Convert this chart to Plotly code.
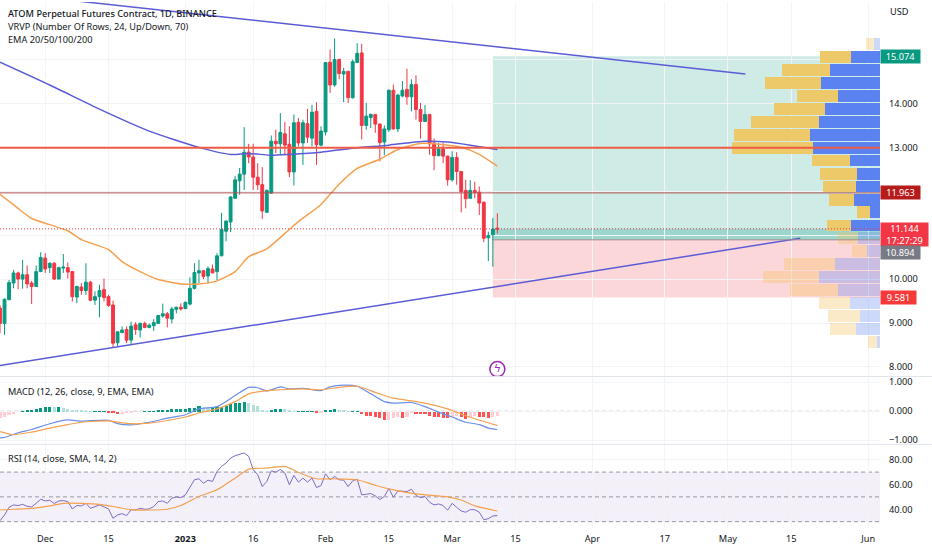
import pandas as pd

import plotly.graph_objects as go

# daily candles, 2022-11-21 -> 2023-03-11
start = pd.Timestamp("2022-11-21")

opens = [
    9.34, 8.99, 9.53, 9.91, 10.14, 10.00, 10.10, 9.91, 9.83, 10.17,
    10.48, 10.26, 10.36, 10.00, 10.25, 10.26, 10.17, 9.59, 9.82, 9.74,
    9.93, 9.52, 9.60, 9.76, 9.60, 9.41, 8.55, 8.78, 8.85, 8.61,
    8.96, 8.84, 8.99, 8.90, 8.94, 8.99, 9.16, 9.21, 9.09, 9.31,
    9.36, 9.33, 9.43, 9.79, 10.14, 10.19, 10.07, 10.23, 10.17, 10.53,
    11.09, 11.30, 11.84, 12.24, 12.39, 12.89, 12.78, 12.32, 12.15, 11.52,
    11.96, 13.14, 13.08, 13.31, 13.07, 12.44, 13.57, 13.10, 13.54, 13.21,
    13.82, 13.05, 13.35, 14.94, 14.42, 15.00, 14.67, 14.73, 14.13, 14.93,
    15.15, 13.50, 13.68, 13.75, 13.53, 13.12, 13.40, 14.30, 13.42, 14.17,
    14.32, 14.15, 14.43, 13.86, 13.59, 13.75, 13.10, 12.81, 12.96, 12.80,
    12.26, 12.77, 12.45, 12.02, 11.84, 12.02, 11.98, 11.75, 10.94, 11.01,
    11.16,
]
highs = [
    9.41, 9.56, 9.98, 10.21, 10.17, 10.44, 10.31, 9.96, 10.31, 10.61,
    10.59, 10.38, 10.39, 10.28, 10.57, 10.38, 10.17, 9.85, 9.91, 10.36,
    9.96, 9.72, 9.87, 10.01, 9.64, 9.51, 8.80, 8.92, 8.92, 9.03,
    9.02, 9.01, 9.03, 8.99, 9.09, 9.18, 9.44, 9.25, 9.37, 9.37,
    9.45, 9.49, 10.04, 10.36, 10.44, 10.21, 10.29, 10.33, 10.59, 11.51,
    11.34, 11.89, 12.35, 12.53, 13.46, 13.08, 13.08, 12.64, 12.55, 12.04,
    13.27, 13.40, 13.78, 13.58, 13.48, 13.75, 13.67, 13.63, 13.88, 13.97,
    14.03, 13.48, 14.94, 15.23, 15.48, 15.02, 14.81, 14.75, 15.00, 15.37,
    15.36, 14.01, 13.77, 13.75, 13.54, 13.50, 14.32, 14.43, 14.22, 14.51,
    14.79, 14.55, 14.64, 14.01, 13.96, 13.75, 13.20, 13.10, 13.10, 12.81,
    12.91, 12.89, 12.45, 12.26, 12.25, 12.22, 12.11, 11.77, 11.08, 11.39,
    11.50,
]
lows = [
    8.77, 8.73, 9.53, 9.79, 9.77, 9.78, 9.79, 9.43, 9.83, 10.17,
    10.14, 10.14, 9.98, 10.00, 10.14, 10.01, 9.49, 9.45, 9.64, 9.64,
    9.50, 9.41, 9.13, 9.49, 9.37, 8.45, 8.45, 8.77, 8.54, 8.51,
    8.73, 8.67, 8.88, 8.88, 8.82, 8.98, 9.12, 8.90, 8.99, 9.22,
    9.28, 9.31, 9.40, 9.76, 9.91, 10.00, 9.90, 10.14, 9.98, 10.52,
    10.86, 11.07, 11.84, 11.92, 12.03, 12.64, 12.03, 12.03, 11.37, 11.52,
    11.94, 12.87, 12.82, 12.82, 12.32, 12.13, 13.02, 12.60, 13.10, 13.02,
    12.60, 13.02, 13.27, 14.24, 14.38, 14.55, 14.03, 14.01, 14.11, 14.93,
    13.18, 13.40, 13.44, 13.33, 12.68, 12.82, 13.35, 13.40, 13.35, 14.14,
    13.97, 13.82, 13.63, 13.20, 13.58, 12.83, 12.48, 12.80, 12.64, 12.13,
    12.22, 12.15, 11.52, 11.61, 11.84, 11.84, 11.46, 10.84, 10.41, 10.28,
    11.04,
]
closes = [
    8.99, 9.54, 9.92, 10.14, 10.00, 10.10, 9.89, 9.83, 10.17, 10.49,
    10.23, 10.36, 10.00, 10.26, 10.27, 10.16, 9.60, 9.83, 9.74, 9.93,
    9.52, 9.60, 9.74, 9.58, 9.40, 8.54, 8.80, 8.84, 8.61, 8.93,
    8.85, 8.99, 8.90, 8.95, 9.01, 9.17, 9.21, 9.11, 9.32, 9.36,
    9.32, 9.47, 9.79, 10.15, 10.19, 10.06, 10.24, 10.14, 10.53, 11.13,
    11.32, 11.87, 12.26, 12.39, 12.89, 12.78, 12.32, 12.15, 11.55, 12.02,
    13.14, 13.08, 13.34, 13.05, 12.44, 13.56, 13.10, 13.56, 13.23, 13.80,
    13.06, 13.37, 14.93, 14.42, 15.00, 14.68, 14.73, 14.13, 14.95, 15.14,
    13.50, 13.71, 13.75, 13.53, 13.11, 13.42, 14.30, 13.42, 14.19, 14.30,
    14.15, 14.43, 13.86, 13.59, 13.75, 13.08, 12.81, 12.96, 12.80, 12.26,
    12.77, 12.45, 11.99, 11.83, 12.02, 11.97, 11.73, 10.93, 10.99, 11.14,
    11.14,
]

ema200_days = [0, 11, 22, 33, 44, 51, 55, 60, 64, 71, 78, 86, 90, 94, 99, 104, 110]
ema200 = [14.94, 14.42, 13.87, 13.37, 13.00, 12.84, 12.86, 12.82, 12.84, 12.89,
          12.98, 13.05, 13.10, 13.14, 13.12, 13.05, 12.95]
ema50_days = [0, 4, 7, 11, 15, 18, 24, 27, 31, 35, 40, 44, 48, 52, 55, 59, 63, 66,
              71, 75, 79, 84, 88, 93, 97, 102, 106, 110]
ema50 = [11.93, 11.61, 11.38, 11.24, 11.10, 10.90, 10.67, 10.40, 10.17, 9.99,
         9.89, 9.89, 9.96, 10.17, 10.51, 10.69, 11.04, 11.31, 11.70, 12.16,
         12.52, 12.73, 12.95, 13.09, 13.07, 13.00, 12.84, 12.57]

macd_days = [0, 1, 4, 7, 11, 15, 18, 24, 26, 29, 33, 37, 41, 44, 48, 52, 55, 57, 59, 62,
             64, 67, 71, 73, 76, 79, 82, 85, 87, 91, 94, 97, 100, 103, 106, 108, 110]
macd = [-0.92, -0.90, -0.74, -0.63, -0.43, -0.30, -0.34, -0.31, -0.43, -0.47,
        -0.38, -0.24, -0.12, 0.08, 0.16, 0.54, 0.82, 0.81, 0.70, 0.84,
        0.77, 0.79, 0.71, 0.84, 0.90, 0.86, 0.60, 0.33, 0.28, 0.30,
        0.16, -0.03, -0.20, -0.38, -0.46, -0.58, -0.63]
signal_days = [0, 3, 7, 11, 15, 18, 24, 27, 29, 33, 37, 41, 44, 48, 52, 55, 59, 62, 67, 71,
               74, 79, 83, 87, 91, 94, 99, 102, 105, 110]
signal = [-0.70, -0.81, -0.72, -0.58, -0.46, -0.38, -0.33, -0.40, -0.43, -0.41,
          -0.32, -0.20, -0.06, 0.08, 0.33, 0.60, 0.71, 0.74, 0.77, 0.74,
          0.80, 0.86, 0.65, 0.45, 0.36, 0.28, 0.08, -0.09, -0.26, -0.49]
hist = [
    -0.23, -0.19, -0.13, -0.07, 0.00, 0.02, 0.03, 0.06, 0.09, 0.13,
    0.15, 0.16, 0.15, 0.15, 0.11, 0.10, 0.07, 0.05, 0.03, 0.02,
    0.01, 0.01, 0.01, 0.01, -0.02, -0.06, -0.07, -0.07, -0.06, -0.03,
    -0.01, 0.00, 0.01, 0.02, 0.02, 0.03, 0.05, 0.06, 0.08, 0.09,
    0.09, 0.10, 0.11, 0.14, 0.18, 0.14, 0.13, 0.13, 0.15, 0.17,
    0.21, 0.25, 0.30, 0.31, 0.32, 0.29, 0.22, 0.18, 0.05, 0.01,
    0.06, 0.08, 0.09, 0.08, 0.03, 0.01, 0.01, 0.01, 0.02, 0.02,
    -0.05, -0.05, 0.03, 0.06, 0.08, 0.07, 0.05, 0.01, 0.01, 0.01,
    -0.09, -0.14, -0.16, -0.19, -0.23, -0.27, -0.27, -0.23, -0.18, -0.23,
    -0.19, -0.05, -0.07, -0.08, -0.09, -0.14, -0.18, -0.20, -0.21, -0.22,
    -0.18, -0.14, -0.18, -0.24, -0.20, -0.16, -0.18, -0.20, -0.22, -0.19,
    -0.16,
]

rsi = [
    30.8, 35.4, 41.6, 43.5, 43.0, 44.0, 42.4, 41.9, 44.8, 48.1,
    46.7, 47.3, 44.6, 46.7, 47.0, 46.2, 40.3, 43.0, 42.7, 44.8,
    40.8, 42.2, 43.5, 41.9, 40.3, 32.7, 35.4, 36.5, 34.9, 39.7,
    39.4, 40.8, 40.0, 40.3, 42.2, 46.2, 46.7, 44.8, 48.9, 50.0,
    49.4, 51.6, 58.3, 63.8, 64.6, 61.0, 63.5, 62.4, 70.5, 74.6,
    77.3, 81.3, 83.2, 84.0, 85.4, 82.7, 71.9, 67.8, 58.3, 62.4,
    71.0, 70.0, 72.1, 69.2, 59.7, 67.3, 61.9, 65.1, 61.9, 65.1,
    57.5, 59.2, 68.6, 63.8, 66.5, 63.8, 63.5, 58.3, 62.9, 64.3,
    51.6, 52.1, 52.7, 50.8, 47.8, 50.3, 56.7, 49.7, 54.8, 54.6,
    54.3, 56.2, 51.1, 49.4, 50.3, 45.7, 43.5, 44.3, 43.0, 39.2,
    44.8, 41.6, 38.6, 37.6, 39.7, 39.7, 37.6, 31.6, 32.4, 34.6,
    34.9,
]
rsi_ma_days = [0, 3, 7, 11, 14, 18, 22, 26, 29, 33, 37, 40, 44, 48, 52, 55, 59, 63,
               66, 70, 74, 79, 83, 87, 92, 99, 102, 105, 110]
rsi_ma = [39.4, 40.0, 40.8, 42.7, 44.8, 44.8, 44.0, 41.6, 39.7, 39.4,
          40.0, 43.0, 50.3, 55.7, 65.1, 72.4, 73.2, 74.6,
          69.7, 64.6, 64.6, 63.8, 59.4, 55.7, 52.4, 50.0, 47.5, 42.7, 38.6]

# volume profile rows, top to bottom
vp_price = [15.35, 15.06, 14.76, 14.47, 14.17, 13.88, 13.58, 13.29, 12.99, 12.70, 12.40, 12.11,
            11.81, 11.52, 11.22, 10.93, 10.63, 10.34, 10.05, 9.75, 9.46, 9.16, 8.87, 8.57]
vp_up = [6, 29, 50, 59, 42, 55, 61, 70, 67, 30, 23, 24, 26, 10, 29, 22, 13, 45, 61, 42, 30, 20, 24, 3]
vp_down = [8, 31, 48, 56, 41, 51, 68, 76, 81, 38, 37, 33, 25, 13, 24, 20, 15, 51, 56, 48, 31, 32, 26, 9]
value_area = range(1, 15)

tick_dates = ["2022-12-01", "2022-12-15", "2023-01-01", "2023-01-16", "2023-02-01", "2023-02-15",
              "2023-03-01", "2023-03-15", "2023-04-01", "2023-04-17", "2023-05-01", "2023-05-15",
              "2023-06-01"]
tick_labels = ["Dec", "15", "<b>2023</b>", "16", "Feb", "15", "Mar", "15", "Apr", "17", "May", "15", "Jun"]

price_ticks = [8, 9, 10, 11, 12, 13, 14, 15]
price_labels = ["8.000", "9.000", "10.000", "", "", "13.000", "14.000", ""]

BLUE = "#5B5BD6"
ORANGE = "#F5A04E"
GREEN = "#089981"
RED = "#F23645"
TEXT = "#131722"
GRID = "#F3F4F6"
FONT = "Noto Sans"
FONT_SIZE = 9.2

days = pd.date_range(start, periods=len(closes))


def at(offsets):
    return [start + pd.Timedelta(days=d) for d in offsets]


PANE_H = 527
X_END = "2023-06-03 15:00"
TRADE_START = "2023-03-10"


def dom(top, bottom):
    return [1 - bottom / PANE_H, 1 - top / PANE_H]


SMOOTH = dict(shape="spline", smoothing=0.6)

fig = go.Figure()

fig.add_trace(go.Candlestick(
    x=days, open=opens, high=highs, low=lows, close=closes,
    increasing=dict(line=dict(color=GREEN, width=1), fillcolor=GREEN),
    decreasing=dict(line=dict(color=RED, width=1), fillcolor=RED),
    whiskerwidth=0, showlegend=False, xaxis="x", yaxis="y",
))
fig.add_trace(go.Scatter(x=at(ema200_days), y=ema200, mode="lines", line=dict(color=BLUE, width=1.5, **SMOOTH),
                         xaxis="x", yaxis="y"))
fig.add_trace(go.Scatter(x=at(ema50_days), y=ema50, mode="lines", line=dict(color=ORANGE, width=1.5, **SMOOTH),
                         xaxis="x", yaxis="y"))

# trend lines
fig.add_trace(go.Scatter(x=["2022-12-08 07:00", "2023-05-04 20:00"], y=[16.33, 14.67], mode="lines",
                         line=dict(color=BLUE, width=1.5), xaxis="x", yaxis="y"))
fig.add_trace(go.Scatter(x=["2022-11-21", "2023-05-17"], y=[8.03, 10.93], mode="lines",
                         line=dict(color=BLUE, width=1.5), xaxis="x", yaxis="y"))

# lightning marker
fig.add_trace(go.Scatter(x=["2023-03-11"], y=[7.95], mode="markers+text", text=["ϟ"],
                         textposition="middle center", textfont=dict(color="#9C27B0", size=11, family="DejaVu Sans"),
                         marker=dict(symbol="circle-open", size=15, color="#9C27B0", line=dict(width=1.5)),
                         xaxis="x", yaxis="y"))

# volume profile, grows leftward from the right edge
up_colors = ["#5B82F1" if i in value_area else "rgba(91,130,241,0.3)" for i in range(len(vp_up))]
down_colors = ["#EDC96A" if i in value_area else "rgba(243,190,80,0.32)" for i in range(len(vp_down))]
fig.add_trace(go.Bar(y=vp_price, x=vp_up, orientation="h", width=0.27, marker=dict(color=up_colors, line=dict(width=0)),
                     xaxis="x2", yaxis="y"))
fig.add_trace(go.Bar(y=vp_price, x=vp_down, orientation="h", width=0.27, marker=dict(color=down_colors, line=dict(width=0)),
                     xaxis="x2", yaxis="y"))

# macd
hist_colors = []
for i, v in enumerate(hist):
    rising = i == 0 or v >= hist[i - 1]
    if v >= 0:
        hist_colors.append(GREEN if rising else "#B2DFDB")
    else:
        hist_colors.append("#FFCDD2" if rising else "#FF5252")
fig.add_trace(go.Bar(x=days, y=hist, width=60000000, marker=dict(color=hist_colors, line=dict(width=0)),
                     xaxis="x", yaxis="y2"))
fig.add_trace(go.Scatter(x=at(macd_days), y=macd, mode="lines", line=dict(color="#6A8FE8", width=1.2, **SMOOTH),
                         xaxis="x", yaxis="y2"))
fig.add_trace(go.Scatter(x=at(signal_days), y=signal, mode="lines", line=dict(color=ORANGE, width=1.2, **SMOOTH),
                         xaxis="x", yaxis="y2"))

# rsi
fig.add_trace(go.Scatter(x=days, y=rsi, mode="lines", line=dict(color="#7E6BC4", width=1),
                         xaxis="x", yaxis="y3"))
fig.add_trace(go.Scatter(x=at(rsi_ma_days), y=rsi_ma, mode="lines", line=dict(color=ORANGE, width=1.2, **SMOOTH),
                         xaxis="x", yaxis="y3"))

shapes = [
    # position tool
    dict(type="rect", x0=TRADE_START, x1=X_END, y0=10.894, y1=15.074, xref="x", yref="y",
         fillcolor="rgba(8,153,129,0.2)", line=dict(width=0), layer="below"),
    dict(type="rect", x0=TRADE_START, x1=X_END, y0=10.894, y1=11.144, xref="x", yref="y",
         fillcolor="rgba(8,153,129,0.25)", line=dict(width=0), layer="below"),
    dict(type="rect", x0=TRADE_START, x1=X_END, y0=9.581, y1=10.894, xref="x", yref="y",
         fillcolor="rgba(242,54,69,0.2)", line=dict(width=0), layer="below"),
    dict(type="line", x0=TRADE_START, x1=X_END, y0=10.894, y1=10.894, xref="x", yref="y",
         line=dict(color="#A08C8C", width=1), layer="above"),
    # horizontal levels
    dict(type="line", x0=0, x1=1, y0=12.99, y1=12.99, xref="paper", yref="y",
         line=dict(color="#EF5B45", width=2), layer="above"),
    dict(type="line", x0=0, x1=1, y0=11.963, y1=11.963, xref="paper", yref="y",
         line=dict(color="#B05050", width=1), layer="above"),
    dict(type="line", x0=0, x1=1, y0=11.144, y1=11.144, xref="paper", yref="y",
         line=dict(color=RED, width=1, dash="1px,2px"), layer="above"),
    # rsi band
    dict(type="rect", x0=0, x1=1, y0=30, y1=70, xref="paper", yref="y3",
         fillcolor="rgba(126,87,194,0.09)", line=dict(width=0), layer="below"),
]
for level in [30, 50, 70]:
    shapes.append(dict(type="line", x0=0, x1=1, y0=level, y1=level, xref="paper", yref="y3",
                       line=dict(color="#9598A1", width=1, dash="4px,3px"), layer="below"))
shapes.append(dict(type="line", x0=0, x1=1, y0=0, y1=0, xref="paper", yref="y2",
                   line=dict(color="#B2B5BE", width=1, dash="4px,3px"), layer="below"))
# pane separators
for pos in dom(0, 376)[0], dom(0, 444)[0]:
    shapes.append(dict(type="line", x0=0, x1=932 / 880, y0=pos, y1=pos, xref="paper", yref="paper",
                       line=dict(color="#E0E3EB", width=1)))


def legend(text, y, weight=400):
    return dict(text=text, x=6 / 880, y=y, xref="paper", yref="paper", xanchor="left", yanchor="middle",
                showarrow=False, font=dict(family=FONT, size=FONT_SIZE, color=TEXT, weight=weight))


def to_pane(px):
    return 1 - px / PANE_H


def tag(text, price, color, w, h=13, yshift=0):
    return dict(text=text, x=1.0, y=price, xref="paper", yref="y", xanchor="left", yanchor="middle",
                width=w, height=h, yshift=yshift, showarrow=False, bgcolor=color, borderpad=0,
                font=dict(family=FONT, size=FONT_SIZE, color="white"))


annotations = [
    legend("ATOM Perpetual Futures Contract, 1D, BINANCE", to_pane(12), 500),
    legend("VRVP (Number Of Rows, 24, Up/Down, 70)", to_pane(25)),
    legend("EMA 20/50/100/200", to_pane(38)),
    legend("MACD (12, 26, close, 9, EMA, EMA)", to_pane(391)),
    legend("RSI (14, close, SMA, 14, 2)", to_pane(458)),
    dict(text="USD", x=1 + 8 / 880, y=to_pane(10), xref="paper", yref="paper", xanchor="left", yanchor="middle",
         showarrow=False, font=dict(family=FONT, size=FONT_SIZE, color=TEXT)),
    tag("15.074", 15.074, GREEN, 39),
    tag("11.963", 11.963, "#B71C1C", 39),
    tag("11.144<br>17:27:29", 11.144, RED, 47, h=23, yshift=-6),
    tag("10.894", 10.894, "#787B86", 39, yshift=-13),
    tag("9.581", 9.581, "#F63A3A", 35),
]

fig.update_layout(
    width=932,
    height=550,
    margin=dict(l=0, r=52, t=0, b=23),
    paper_bgcolor="white",
    plot_bgcolor="white",
    showlegend=False,
    barmode="stack",
    bargap=0,
    boxgap=0.1,
    font=dict(family=FONT, size=FONT_SIZE, color=TEXT),
    shapes=shapes,
    annotations=annotations,
    xaxis=dict(
        range=[start, X_END], anchor="y3", tickmode="array", tickvals=tick_dates, ticktext=tick_labels,
        showgrid=True, gridcolor=GRID, ticks="", showline=False, zeroline=False, rangeslider=dict(visible=False),
        ticklabelstandoff=5,
    ),
    xaxis2=dict(range=[880, 0], overlaying="x", anchor="y", visible=False, showgrid=False),
    yaxis=dict(
        domain=dom(0, 376), range=[7.78, 16.31], side="right", anchor="x", tickmode="array",
        tickvals=price_ticks, ticktext=price_labels, showgrid=True, gridcolor=GRID, zeroline=False,
        ticklabelstandoff=8,
    ),
    yaxis2=dict(
        domain=dom(377, 444), range=[-1.14, 1.16], side="right", anchor="x", tickmode="array",
        tickvals=[-1, 0, 1], tickformat=".3f", showgrid=True, gridcolor=GRID, zeroline=False,
        ticklabelstandoff=8,
    ),
    yaxis3=dict(
        domain=dom(444, 527), range=[25.7, 92.4], side="right", anchor="x", tickmode="array",
        tickvals=[40, 60, 80], tickformat=".2f", showgrid=True, gridcolor=GRID, zeroline=False,
        ticklabelstandoff=8,
    ),
)

fig.write_html("out.html", post_script="document.body.style.margin='0';", config=dict(displayModeBar=False))
